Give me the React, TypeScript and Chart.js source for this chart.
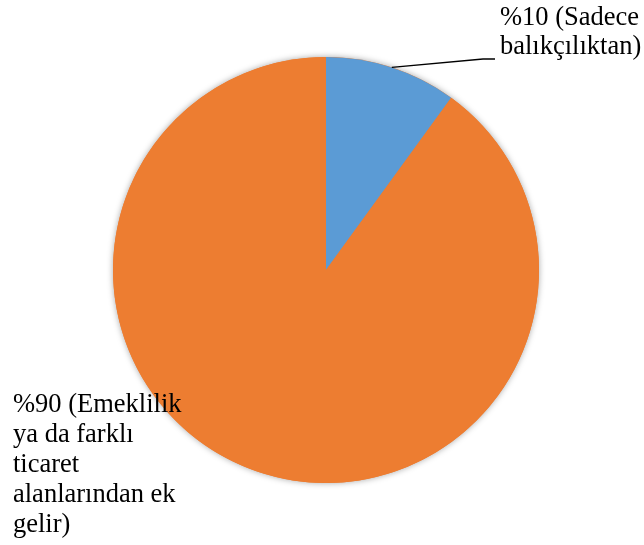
import React, { useEffect, useRef } from "react";
import { Chart, registerables } from "chart.js";

Chart.register(...registerables);

const categories = ["Sadece balıkçılıktan", "Emeklilik ya da farklı ticaret alanlarından ek gelir"];
const values = [10, 90];
const colors = ["#5B9BD5", "#ED7D31"];
const labelLinesTop = ["%10 (Sadece", "balıkçılıktan)"];
const labelLinesBottom = ["%90 (Emeklilik", "ya da farklı", "ticaret", "alanlarından ek", "gelir)"];

const FONT = "26.5px \"Liberation Serif\", \"Times New Roman\", Times, serif";

const shadowPlugin = {
  id: "pieShadow",
  beforeDatasetsDraw(chart: any) {
    const meta = chart.getDatasetMeta(0);
    const arc = meta.data[0];
    if (!arc) return;
    const ctx = chart.ctx;
    ctx.save();
    ctx.shadowColor = "rgba(0,0,0,0.35)";
    ctx.shadowBlur = 6;
    ctx.fillStyle = "#ED7D31";
    ctx.beginPath();
    ctx.arc(arc.x, arc.y, arc.outerRadius, 0, Math.PI * 2);
    ctx.fill();
    ctx.restore();
  },
};

const labelPlugin = {
  id: "pieLabels",
  afterDatasetsDraw(chart: any) {
    const ctx = chart.ctx;
    const meta = chart.getDatasetMeta(0);
    const a0 = meta.data[0];
    ctx.save();
    const mid = (a0.startAngle + a0.endAngle) / 2;
    const sx = a0.x + Math.cos(mid) * a0.outerRadius;
    const sy = a0.y + Math.sin(mid) * a0.outerRadius;
    ctx.strokeStyle = "#000";
    ctx.lineWidth = 1.3;
    ctx.beginPath();
    ctx.moveTo(sx, sy);
    ctx.lineTo(483, 59);
    ctx.lineTo(495, 59);
    ctx.stroke();

    ctx.fillStyle = "#000";
    ctx.font = FONT;
    ctx.textAlign = "left";
    ctx.textBaseline = "alphabetic";
    labelLinesTop.forEach((l, i) => ctx.fillText(l, 500, 25 + i * 29));
    labelLinesBottom.forEach((l, i) => ctx.fillText(l, 13, 412 + i * 30));
    ctx.restore();
  },
};

export default function App() {
  const ref = useRef<HTMLCanvasElement>(null);
  useEffect(() => {
    document.body.style.margin = "0";
    const chart = new Chart(ref.current!, {
      type: "pie",
      data: {
        labels: categories,
        datasets: [
          {
            data: values,
            backgroundColor: colors,
            borderWidth: 0,
            hoverOffset: 0,
            offset: 0,
          },
        ],
      },
      options: {
        animation: false,
        responsive: false,
        events: [],
        layout: { padding: { top: 57, bottom: 62, left: 113, right: 105 } },
        plugins: {
          legend: { display: false },
          tooltip: { enabled: false },
        },
      },
      plugins: [shadowPlugin, labelPlugin],
    });
    let alive = true;
    const fonts = (document as any).fonts;
    if (fonts) {
      fonts.load(FONT, "%10 balıkçılıktan").then(() => {
        if (alive) chart.draw();
      });
    }
    return () => {
      alive = false;
      chart.destroy();
    };
  }, []);
  return (
    <div style={{ width: 644, height: 545, background: "#fff" }}>
      <canvas ref={ref} width={644} height={545} style={{ display: "block" }} />
    </div>
  );
}
